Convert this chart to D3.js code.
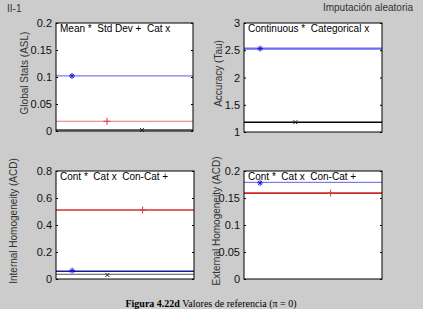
<!DOCTYPE html>
<html>
<head>
<meta charset="utf-8">
<script src="https://cdn.jsdelivr.net/npm/d3@7"></script>
<style>
  body { margin: 0; background: #cccccc; }
  svg { display: block; }
  .ax text { font-family: "Liberation Sans Narrow", "Arial Narrow", "Liberation Sans", Arial, sans-serif; }
</style>
</head>
<body>
<script>
// panel setup
const yLabels = ['Global Stats (ASL)', 'Accuracy (Tau)', 'Internal Homogeneity (ACD)', 'External Homogeneity (ACD)'];
const legends = ['Mean *  Std Dev +  Cat x', 'Continuous *  Categorical x', 'Cont *  Cat x  Con-Cat +', 'Cont *  Cat x  Con-Cat +'];
const yDomains = [[0, 0.2], [1, 3], [0, 0.8], [0, 0.2]];
const yTicks = [[0, 0.05, 0.1, 0.15, 0.2], [1, 1.5, 2, 2.5, 3], [0, 0.2, 0.4, 0.6, 0.8], [0, 0.05, 0.1, 0.15, 0.2]];

// series per panel: [symbol, x position, line level, marker value]
const seriesP1 = [['*', 1, 0.102, 0.102], ['+', 2, 0.018, 0.018], ['x', 3, 0.002, 0.002]];
const seriesP2 = [['*', 1, 2.53, 2.53], ['x', 2, 1.18, 1.18]];
const seriesP3 = [['*', 1, 0.057, 0.062], ['x', 2, 0.035, 0.03], ['+', 3, 0.511, 0.511]];
const seriesP4 = [['*', 1, 0.179, 0.178], ['+', 3, 0.159, 0.159]];
const allSeries = [seriesP1, seriesP2, seriesP3, seriesP4];

// line styles per panel, in the order of the series
const lineStyles = [
  [['#5b5bf0', 1], ['#e07a7a', 1], ['#000', 1]],
  [['#6b6bf5', 2.2], ['#000', 1.6]],
  [['#1a1a9a', 1.6], ['#555', 1], ['#e06464', 2.2]],
  [['#6060e8', 1], ['#cc2a2a', 1.6]]
];
const markerColors = { '*': '#1a1ad8', '+': '#d04040', 'x': '#222' };

const W = 423, H = 309;
const boxes = [[56, 23, 193, 131], [244, 23, 382, 132], [56, 171, 194, 279], [244, 171, 382, 279]];
const labelX = [24, 218, 13, 216];

const svg = d3.select('body').append('svg').attr('width', W).attr('height', H);

svg.append('text').attr('x', 7).attr('y', 12)
  .style('font', '10px "Liberation Sans Narrow", "Liberation Sans", Arial, sans-serif').style('fill', '#333').text('II-1');
svg.append('text').attr('x', 413).attr('y', 11).attr('text-anchor', 'end')
  .style('font', '10px "Liberation Sans Narrow", "Liberation Sans", Arial, sans-serif').style('fill', '#333')
  .text('Imputación aleatoria');

boxes.forEach((b, i) => {
  let [x0, y0, x1, y1] = b;
  let xScale = d3.scaleLinear([0.543, 4.457], [x0, x1]),
      yScale = d3.scaleLinear(yDomains[i], [y1, y0]);
  let g = svg.append('g').attr('class', 'ax');

  g.append('rect').attr('x', x0).attr('y', y0).attr('width', x1 - x0).attr('height', y1 - y0)
    .style('fill', '#fff');

  // horizontal level lines
  g.selectAll('line.lvl')
    .data(allSeries[i])
    .join('line')
    .attr('class', 'lvl')
    .attr('x1', x0).attr('x2', x1)
    .attr('y1', d => yScale(d[2])).attr('y2', d => yScale(d[2]))
    .style('stroke', (d, j) => lineStyles[i][j][0])
    .style('stroke-width', (d, j) => lineStyles[i][j][1]);

  // markers
  let mk = g.selectAll('g.mk')
    .data(allSeries[i])
    .join('g')
    .attr('class', 'mk')
    .attr('transform', d => `translate(${xScale(d[1])},${yScale(d[3])})`)
    .style('stroke', d => markerColors[d[0]])
    .style('stroke-width', 1);
  mk.append('path').attr('d', d => {
    if (d[0] === '+') return 'M-3.5,0H3.5M0,-3.5V3.5';
    if (d[0] === 'x') return 'M-2,-2L2,2M-2,2L2,-2';
    return 'M-3,0H3M0,-3V3M-2,-2L2,2M-2,2L2,-2';
  });

  // y axis left & right, ticks inside
  let axL = g.append('g').attr('transform', `translate(${x0},0)`)
    .call(d3.axisLeft(yScale).tickValues(yTicks[i]).tickSizeInner(-2).tickSizeOuter(0).tickPadding(4).tickFormat(d3.format('~g')));
  let axR = g.append('g').attr('transform', `translate(${x1},0)`)
    .call(d3.axisRight(yScale).tickValues(yTicks[i]).tickSizeInner(-2).tickSizeOuter(0).tickFormat(''));
  [axL, axR].forEach(a => {
    a.select('.domain').remove();
    a.selectAll('line').style('stroke', '#000');
  });
  axL.selectAll('text').style('font-size', '11px').style('fill', '#111');

  g.append('rect').attr('x', x0).attr('y', y0).attr('width', x1 - x0).attr('height', y1 - y0)
    .style('fill', 'none').style('stroke', '#000').style('stroke-width', 1);

  g.append('text').attr('x', x0 + 4).attr('y', y0 + 9)
    .style('font-family', '"Liberation Sans", Arial, sans-serif')
    .style('font-size', '10px').style('fill', '#000').style('white-space', 'pre')
    .text(legends[i]);

  g.append('text')
    .attr('transform', `translate(${labelX[i]},${(y0 + y1) / 2 - 4}) rotate(-90)`)
    .attr('text-anchor', 'middle').attr('dy', '0.35em')
    .style('font-size', '10px').style('fill', '#333')
    .text(yLabels[i]);
});

let cap = svg.append('text').attr('x', 211).attr('y', 307).attr('text-anchor', 'middle')
  .style('font', '10px "Liberation Serif", "Times New Roman", serif').style('fill', '#000');
cap.append('tspan').style('font-weight', 'bold').text('Figura 4.22d');
cap.append('tspan').text(' Valores de referencia (π = 0)');
</script>
</body>
</html>
